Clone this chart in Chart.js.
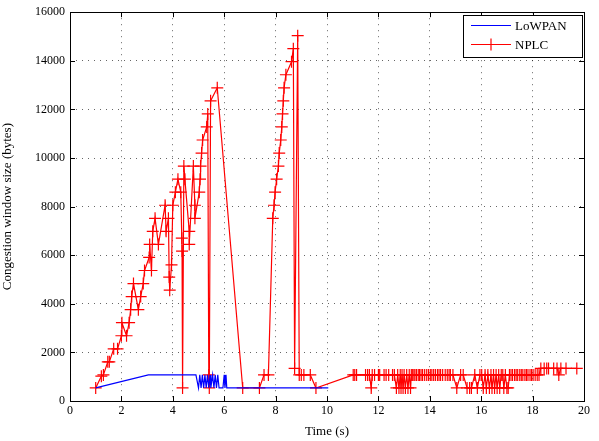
<!DOCTYPE html>
<html>
<head>
<meta charset="utf-8">
<script src="https://cdn.jsdelivr.net/npm/chart.js@4/dist/chart.umd.min.js"></script>
<style>
html,body{margin:0;padding:0;background:#fff;}
canvas{display:block;}
</style>
</head>
<body>
<canvas id="c" width="599" height="441"></canvas>
<script>
// ---- data ----
const xTicks = [0, 2, 4, 6, 8, 10, 12, 14, 16, 18, 20];
const yTicks = [0, 2000, 4000, 6000, 8000, 10000, 12000, 14000, 16000];

const lowpanTime = [1.00, 3.05, 4.90, 5.00, 5.05, 5.10, 5.15, 5.20, 5.25, 5.30, 5.35, 5.40, 5.45, 5.48, 5.55, 5.60, 5.65, 5.70, 5.75, 5.80, 5.95, 6.00, 6.03, 6.07, 6.10, 10.05];
const lowpanCwnd = [537, 1074, 1074, 537, 1074, 537, 1074, 537, 1074, 537, 1074, 537, 1074, 537, 1074, 537, 1074, 537, 1074, 537, 537, 1074, 537, 1074, 537, 537];

const nplcTime = [
  1.00, 1.22, 1.30, 1.47, 1.53, 1.70, 1.85, 2.00, 2.02, 2.20, 2.30, 2.36, 2.40, 2.47, 2.66, 2.75, 2.85, 2.90,
  3.08, 3.10, 3.17, 3.22, 3.31, 3.44, 3.70, 3.74, 3.83, 3.86, 3.88, 3.95, 4.00, 4.10, 4.20, 4.31, 4.35, 4.36,
  4.38, 4.43, 4.47, 4.64, 4.64, 4.80, 4.86, 4.86, 5.03, 5.06, 5.08, 5.12, 5.16, 5.32, 5.36, 5.40, 5.42, 5.47,
  5.73, 6.72, 7.37, 7.55, 7.72, 7.89, 7.94, 7.98, 8.04, 8.11, 8.14, 8.20, 8.24, 8.27, 8.30, 8.33, 8.40, 8.62,
  8.69, 8.74, 8.86, 8.92, 9.00, 9.10, 9.35, 9.57,
  11.02, 11.08, 11.15, 11.50, 11.58, 11.65, 11.72, 11.76, 11.85, 12.00, 12.05, 12.22, 12.30, 12.40, 12.55, 12.62,
  12.70, 12.75, 12.80, 12.85, 12.88, 12.92, 12.96, 13.00, 13.05, 13.10, 13.15, 13.20, 13.25, 13.28,
  13.32, 13.38, 13.42, 13.48, 13.55, 13.60, 13.66, 13.72, 13.80, 13.88, 13.95, 14.02, 14.08, 14.15, 14.22,
  14.30, 14.36, 14.42, 14.50, 14.60, 14.68, 14.75, 14.80, 14.90, 15.05, 15.20, 15.30, 15.45, 15.55, 15.62,
  15.75, 15.85, 15.95, 16.02, 16.08, 16.15, 16.20, 16.26, 16.32, 16.38, 16.42, 16.48, 16.52, 16.58, 16.62,
  16.68, 16.72, 16.78, 16.84, 16.88, 16.94, 17.00, 17.05, 17.10, 17.16, 17.22, 17.30, 17.36, 17.42, 17.50,
  17.56, 17.62, 17.70, 17.76, 17.82, 17.90, 17.96, 18.02, 18.10, 18.18, 18.25, 18.32, 18.45, 18.55, 18.62,
  18.82, 18.95, 19.02, 19.10, 19.30, 19.72
];
const nplcCwnd = [
  537, 1020, 1074, 1611, 1611, 2148, 2148, 2685, 3222, 2685, 3222, 3759, 4296, 4833, 3759, 4296, 4833, 5370,
  5907, 6444, 5370, 6981, 7518, 6444, 8055, 6981, 7518, 5100, 4560, 5600, 8055, 8592, 9129, 8592, 6700, 6170,
  537, 9666, 9129, 6981, 6444, 9666, 8055, 7518, 8592, 9129, 9666, 10203, 10740, 11277, 11814, 1074, 537, 12351,
  12888, 537, 537, 1074, 1074, 7518, 8055, 8592, 9129, 9666, 10203, 10740, 11277, 11814, 12351, 12888, 13425, 13962,
  14499, 1340, 15036, 1074, 1074, 1074, 1074, 537,
  1074, 1074, 1074, 1074, 1074, 1074, 537, 1074, 1074, 1074, 1074, 1074, 1074, 1074, 1074, 1074,
  537, 1074, 537, 1074, 537, 1074, 537, 1074, 537, 1074, 537, 1074, 537, 1074,
  1074, 1074, 1074, 1074, 1074, 1074, 1074, 1074, 1074, 1074, 1074, 1074, 1074, 1074, 1074,
  1074, 1074, 1074, 1074, 1074, 1074, 1074, 1074, 1074, 537, 1074, 1074, 537, 537, 537,
  1074, 537, 1074, 1074, 537, 1074, 537, 1074, 537, 1074, 537, 1074, 537, 1074, 537,
  1074, 537, 1074, 1074, 537, 1074, 537, 537, 1074, 1074, 1074, 1074, 1074, 1074, 1074,
  1074, 1074, 1074, 1074, 1074, 1074, 1074, 1074, 1074, 1074, 1074, 1340, 1340, 1340, 1340,
  1340, 1340, 1074, 1340, 1340, 1340
];

const seriesNames = ['LoWPAN', 'NPLC'];
const xTitle = 'Time (s)';
const yTitle = 'Congestion window size (bytes)';

// ---- build ----
const toPts = (xs, ys) => xs.map((x, i) => ({x: x, y: ys[i]}));
const FONT = 'Liberation Serif, Times New Roman, serif';

const frame = {
  id: 'frame',
  afterDraw(chart) {
    const {ctx, chartArea: a, scales} = chart;
    ctx.save();
    ctx.strokeStyle = '#000';
    ctx.lineWidth = 1;
    ctx.strokeRect(Math.round(a.left) + 0.5, Math.round(a.top) + 0.5, Math.round(a.right - a.left), Math.round(a.bottom - a.top));
    const tl = 5;
    ctx.beginPath();
    xTicks.forEach(v => {
      const px = Math.round(scales.x.getPixelForValue(v)) + 0.5;
      ctx.moveTo(px, a.bottom); ctx.lineTo(px, a.bottom - tl);
      ctx.moveTo(px, a.top); ctx.lineTo(px, a.top + tl);
    });
    yTicks.forEach(v => {
      const py = Math.round(scales.y.getPixelForValue(v)) + 0.5;
      ctx.moveTo(a.left, py); ctx.lineTo(a.left + tl, py);
      ctx.moveTo(a.right, py); ctx.lineTo(a.right - tl, py);
    });
    ctx.stroke();

    // legend inside plot
    const bx = 463.5, by = 15.5, bw = 119, bh = 42;
    ctx.fillStyle = '#fff';
    ctx.fillRect(bx, by, bw, bh);
    ctx.strokeStyle = '#000';
    ctx.lineWidth = 1;
    ctx.strokeRect(bx, by, bw, bh);
    const rows = [{y: 25.5, c: '#0000ff', m: false}, {y: 44.5, c: '#ff0000', m: true}];
    ctx.font = '13px ' + FONT;
    ctx.textBaseline = 'middle';
    rows.forEach((r, i) => {
      ctx.strokeStyle = r.c;
      ctx.lineWidth = 1.2;
      ctx.beginPath();
      ctx.moveTo(471, r.y); ctx.lineTo(511, r.y);
      if (r.m) {
        ctx.moveTo(491, r.y - 6); ctx.lineTo(491, r.y + 6);
        ctx.moveTo(485, r.y); ctx.lineTo(497, r.y);
      }
      ctx.stroke();
      ctx.fillStyle = '#000';
      ctx.fillText(seriesNames[i], 515, r.y + 1);
    });
    ctx.restore();
  }
};

new Chart(document.getElementById('c'), {
  type: 'scatter',
  data: {
    datasets: [
      {
        label: seriesNames[0],
        data: toPts(lowpanTime, lowpanCwnd),
        showLine: true,
        borderColor: '#0000ff',
        backgroundColor: '#0000ff',
        borderWidth: 1.2,
        pointRadius: 0,
        tension: 0
      },
      {
        label: seriesNames[1],
        data: toPts(nplcTime, nplcCwnd),
        showLine: true,
        borderColor: '#ff0000',
        backgroundColor: '#ff0000',
        borderWidth: 1.2,
        pointStyle: 'cross',
        pointRadius: 6,
        pointBorderWidth: 1.2,
        tension: 0
      }
    ]
  },
  options: {
    responsive: false,
    animation: false,
    devicePixelRatio: 1,
    layout: {padding: {left: 0, top: 9, right: 15, bottom: 0}},
    plugins: {legend: {display: false}, tooltip: {enabled: false}},
    scales: {
      x: {
        type: 'linear', min: 0, max: 20,
        afterBuildTicks: s => { s.ticks = xTicks.map(v => ({value: v})); },
        afterFit: s => { s.height = 40; },
        ticks: {color: '#000', font: {family: FONT, size: 12}, padding: 3, maxRotation: 0},
        grid: {color: 'rgba(0,0,0,0.6)', lineWidth: 1, drawTicks: false},
        border: {display: false, dash: [1, 5]},
        title: {display: true, text: xTitle, color: '#000', font: {family: FONT, size: 13}, padding: {top: 0, bottom: 2}}
      },
      y: {
        type: 'linear', min: 0, max: 16000,
        afterBuildTicks: s => { s.ticks = yTicks.map(v => ({value: v})); },
        afterFit: s => { s.width = 70; },
        ticks: {color: '#000', font: {family: FONT, size: 12}, padding: 5, callback: v => String(v)},
        grid: {color: 'rgba(0,0,0,0.6)', lineWidth: 1, drawTicks: false},
        border: {display: false, dash: [1, 5]},
        title: {display: true, text: yTitle, color: '#000', font: {family: FONT, size: 13}, padding: {top: 0, bottom: 4}}
      }
    }
  },
  plugins: [frame]
});
</script>
</body>
</html>
